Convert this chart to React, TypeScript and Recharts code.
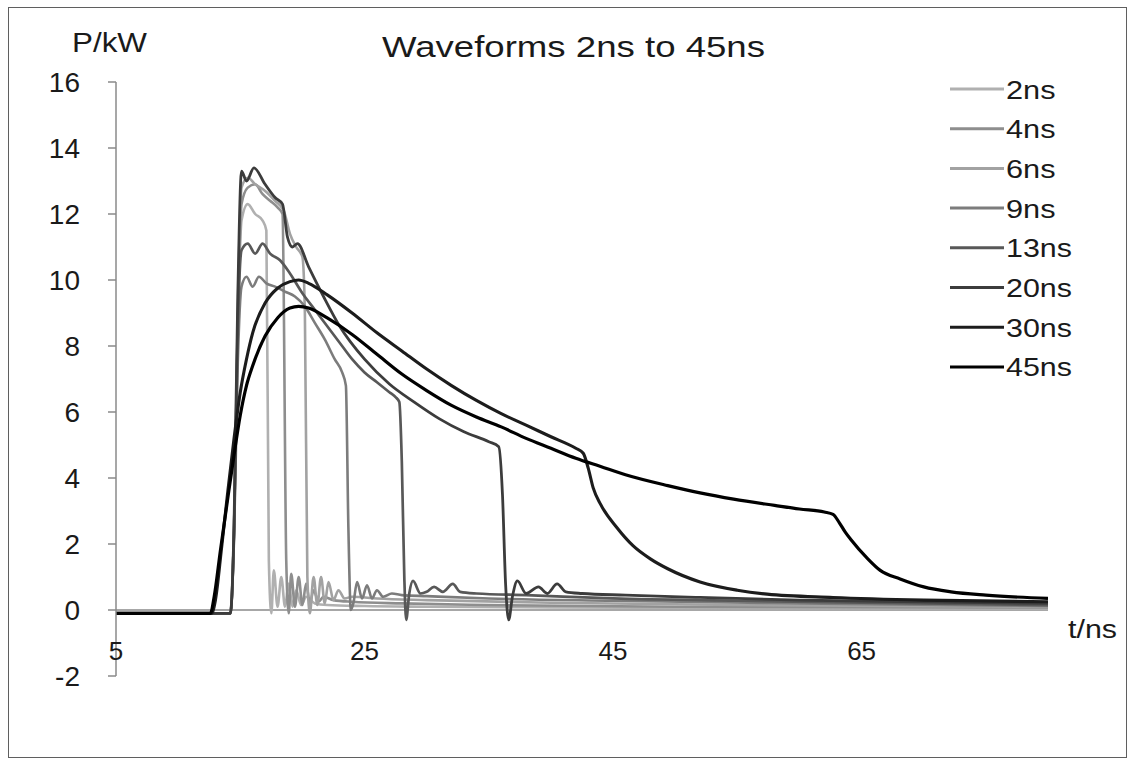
import React from 'react';
import { LineChart, Line, XAxis, YAxis, ReferenceLine, Legend } from 'recharts';

// ---- tick labels ----
const xTicks = [5, 25, 45, 65];
const yTicks = [-2, 0, 2, 4, 6, 8, 10, 12, 14, 16];

// ---- series names & colours ----
const seriesNames = ['2ns', '4ns', '6ns', '9ns', '13ns', '20ns', '30ns', '45ns'];
const seriesColors = ['#b0b0b0', '#8e8e8e', '#a2a2a2', '#7c7c7c', '#585858', '#3c3c3c', '#1c1c1c', '#000000'];
const seriesWidths = [2.6, 2.6, 2.6, 2.6, 2.7, 2.8, 3.1, 3.2];

// ---- series values (t in ns, P in kW) ----
const t2 = [5, 14.2, 14.5, 14.8, 15.1, 15.6, 16.2, 16.8, 17.1, 17.3, 17.5, 17.7, 18.0, 18.3, 18.6, 18.9, 19.2, 19.5, 19.9, 20.3, 21, 22, 25, 30, 40, 55, 80];
const p2 = [-0.1, -0.1, 2.5, 8.5, 11.8, 12.3, 12.0, 11.8, 11.5, 1.5, -0.1, 1.2, 0.1, 1.0, 0.1, 0.8, 0.1, 0.6, 0.15, 0.4, 0.2, 0.15, 0.12, 0.1, 0.08, 0.06, 0.05];

const t4 = [5, 14.2, 14.5, 14.8, 15.1, 15.6, 16.2, 16.8, 17.4, 18.0, 18.4, 18.7, 18.9, 19.1, 19.4, 19.7, 20.0, 20.3, 20.6, 20.9, 21.3, 21.7, 22.5, 24, 28, 35, 50, 80];
const p4 = [-0.1, -0.1, 2.5, 8.8, 12.3, 12.8, 12.9, 12.6, 12.4, 12.2, 12.0, 1.5, -0.1, 1.1, 0.1, 1.0, 0.15, 0.8, 0.2, 0.6, 0.25, 0.4, 0.3, 0.25, 0.2, 0.15, 0.1, 0.08];

const t6 = [5, 14.2, 14.5, 14.8, 15.1, 15.6, 16.2, 17.0, 17.8, 18.5, 19.0, 19.5, 20.0, 20.2, 20.4, 20.6, 20.9, 21.2, 21.5, 21.8, 22.1, 22.5, 22.9, 23.4, 24, 26, 30, 40, 55, 80];
const p6 = [-0.1, -0.1, 2.5, 9.0, 12.8, 13.1, 12.9, 12.7, 12.4, 12.1, 11.4, 11.0, 10.7, 9.0, 1.0, -0.1, 1.0, 0.15, 1.0, 0.2, 0.85, 0.3, 0.6, 0.35, 0.4, 0.35, 0.3, 0.22, 0.15, 0.1];

const t9 = [5, 14.2, 14.5, 14.8, 15.1, 15.5, 16.0, 16.5, 17.1, 17.8, 18.6, 19.4, 20.2, 21.0, 21.8, 22.6, 23.2, 23.5, 23.7, 23.9, 24.1, 24.4, 24.8, 25.2, 25.6, 26.0, 26.5, 27.2, 28, 30, 35, 45, 60, 80];
const p9 = [-0.1, -0.1, 2.2, 7.5, 9.8, 10.1, 9.8, 10.1, 9.9, 9.8, 9.65, 9.5, 9.2, 8.7, 8.2, 7.6, 7.2, 6.8, 2.5, 0.0, 0.2, 0.85, 0.35, 0.75, 0.35, 0.6, 0.4, 0.5, 0.45, 0.42, 0.35, 0.28, 0.2, 0.12];

const t13 = [5, 14.2, 14.5, 14.8, 15.1, 15.6, 16.2, 16.8, 17.4, 18.2, 19.0, 20.0, 21.0, 22.0, 23.0, 24.0, 25.0, 26.0, 27.0, 27.5, 27.8, 28.0, 28.2, 28.35, 28.6, 28.9, 29.5, 30.0, 30.6, 31.3, 32.1, 32.7, 34, 38, 45, 55, 65, 80];
const p13 = [-0.1, -0.1, 2.4, 8.5, 10.9, 11.1, 10.8, 11.1, 10.8, 10.6, 10.2, 9.6, 9.1, 8.6, 8.1, 7.6, 7.2, 6.9, 6.6, 6.45, 6.3, 4.5, 1.0, -0.3, 0.5, 0.88, 0.5, 0.55, 0.7, 0.55, 0.79, 0.55, 0.5, 0.45, 0.35, 0.28, 0.22, 0.15];

const t20 = [5, 14.2, 14.5, 14.8, 15.1, 15.5, 16.1, 17.0, 17.8, 18.4, 18.8, 19.2, 19.6, 20.5, 21.7, 23.0, 25.0, 27.0, 29.0, 31.0, 33.0, 35.0, 35.8, 36.1, 36.35, 36.6, 36.9, 37.3, 38.0, 39.0, 39.7, 40.5, 41.2, 42.5, 46, 52, 60, 70, 80];
const p20 = [-0.1, -0.1, 2.6, 9.5, 13.3, 13.0, 13.4, 12.9, 12.5, 12.3, 11.3, 11.0, 11.1, 10.4, 9.5, 8.6, 7.6, 6.85, 6.3, 5.8, 5.4, 5.1, 4.95, 3.5, 0.8, -0.3, 0.4, 0.88, 0.5, 0.7, 0.5, 0.79, 0.55, 0.5, 0.45, 0.38, 0.3, 0.25, 0.2];

const t30 = [5, 12.7, 13.0, 13.5, 14.0, 14.5, 15.0, 15.5, 16.0, 17.0, 18.0, 19.0, 19.7, 20.5, 22, 24, 26, 28, 30, 32, 34, 36, 38, 40, 42, 42.6, 43.0, 43.4, 44.0, 45.3, 46.6, 48, 49.4, 52, 55, 57.4, 62.7, 70, 80];
const p30 = [-0.1, -0.1, 0.3, 1.9, 3.6, 5.2, 6.6, 7.6, 8.4, 9.3, 9.75, 9.95, 10.0, 9.9, 9.55, 9.0, 8.4, 7.85, 7.3, 6.8, 6.35, 5.95, 5.6, 5.25, 4.9, 4.75, 4.3, 3.7, 3.2, 2.5, 1.95, 1.55, 1.25, 0.85, 0.6, 0.48, 0.38, 0.3, 0.25];

const t45 = [5, 12.6, 12.9, 13.4, 14.0, 14.5, 15.0, 15.5, 16.0, 17.0, 18.0, 19.0, 19.7, 20.5, 22, 24, 26, 28, 30, 32, 34, 36, 38, 40, 42, 44, 46, 49.4, 52, 54.7, 58, 60, 62, 62.7, 63.2, 63.7, 64.1, 65.5, 66.5, 68.1, 70, 72.2, 75, 80];
const p45 = [-0.1, -0.1, 0.4, 1.8, 3.4, 4.7, 5.9, 6.8, 7.4, 8.3, 8.85, 9.15, 9.2, 9.15, 8.85, 8.35, 7.75, 7.15, 6.65, 6.2, 5.85, 5.55, 5.2, 4.9, 4.6, 4.35, 4.1, 3.77, 3.55, 3.36, 3.17, 3.06, 2.97, 2.9, 2.65, 2.35, 2.15, 1.55, 1.2, 0.94, 0.7, 0.55, 0.45, 0.35];

const toPoints = (t: number[], p: number[]) => t.map((x, i) => ({ t: x, p: p[i] }));
const seriesTimes = [t2, t4, t6, t9, t13, t20, t30, t45];
const seriesPowers = [p2, p4, p6, p9, p13, p20, p30, p45];

const series = seriesNames.map((name, i) => ({
  name,
  color: seriesColors[i],
  width: seriesWidths[i],
  data: toPoints(seriesTimes[i], seriesPowers[i]),
}));

const FONT = '"Liberation Sans", Arial, sans-serif';

const XTick = (props: any) => {
  const { x, y, payload } = props;
  return (
    <text x={x} y={y - 16} textAnchor="middle" fontSize={26} fill="#1a1a1a" fontFamily={FONT}>
      {payload.value}
    </text>
  );
};

const LegendBox = () => (
  <svg width={150} height={320}>
    {series.map((s, i) => {
      const cy = 20 + i * 39.7;
      return (
        <g key={s.name}>
          <line x1={0} y1={cy} x2={54} y2={cy} stroke={s.color} strokeWidth={3} />
          <text
            x={56}
            y={cy + 9.5}
            fontSize={26}
            fill="#1a1a1a"
            fontFamily={FONT}
            textLength={s.name.length * 16.5}
            lengthAdjust="spacingAndGlyphs"
          >
            {s.name}
          </text>
        </g>
      );
    })}
  </svg>
);

export default function App() {
  return (
    <div style={{ position: 'absolute', left: 0, top: 0, width: 1134, height: 758, background: '#fff' }}>
      <div
        style={{
          position: 'absolute',
          left: 8,
          top: 7,
          width: 1119,
          height: 751,
          boxSizing: 'border-box',
          border: '1.5px solid #5f5f5f',
        }}
      />
      <div style={{ position: 'absolute', left: 0, top: 0 }}>
        <LineChart width={1134} height={758} margin={{ top: 82, right: 86, bottom: 52, left: 76 }}>
          <XAxis
            type="number"
            dataKey="t"
            domain={[5, 80]}
            ticks={xTicks}
            interval={0}
            height={30}
            axisLine={false}
            tickLine={false}
            tickSize={0}
            tickMargin={0}
            tick={<XTick />}
            allowDataOverflow
          />
          <YAxis
            type="number"
            domain={[-2, 16]}
            ticks={yTicks}
            interval={0}
            width={40}
            tickSize={8}
            tickMargin={28}
            tick={{ fontSize: 28, fill: '#1a1a1a', fontFamily: FONT }}
            axisLine={{ stroke: '#8a8a8a', strokeWidth: 1.5 }}
            tickLine={{ stroke: '#8a8a8a', strokeWidth: 1.5 }}
            allowDataOverflow
          />
          <ReferenceLine y={0} stroke="#8a8a8a" strokeWidth={1.5} />
          <Legend
            layout="vertical"
            align="center"
            verticalAlign="middle"
            wrapperStyle={{ left: 950, top: 69, width: 150, height: 320 }}
            content={() => <LegendBox />}
          />
          {series.map((s) => (
            <Line
              key={s.name}
              data={s.data}
              dataKey="p"
              name={s.name}
              type="monotone"
              stroke={s.color}
              strokeWidth={s.width}
              dot={false}
              activeDot={false}
              isAnimationActive={false}
            />
          ))}
        </LineChart>
      </div>
      <svg
        width={1134}
        height={758}
        style={{ position: 'absolute', left: 0, top: 0, pointerEvents: 'none' }}
      >
        <text
          x={573.5}
          y={57}
          textAnchor="middle"
          fontSize={30}
          fill="#1a1a1a"
          fontFamily={FONT}
          textLength={383}
          lengthAdjust="spacingAndGlyphs"
        >
          Waveforms 2ns to 45ns
        </text>
        <text x={72} y={52} fontSize={28} fill="#1a1a1a" fontFamily={FONT} textLength={75} lengthAdjust="spacingAndGlyphs">
          P/kW
        </text>
        <text x={1068} y={638} fontSize={25} fill="#1a1a1a" fontFamily={FONT} textLength={49} lengthAdjust="spacingAndGlyphs">
          t/ns
        </text>
      </svg>
    </div>
  );
}
